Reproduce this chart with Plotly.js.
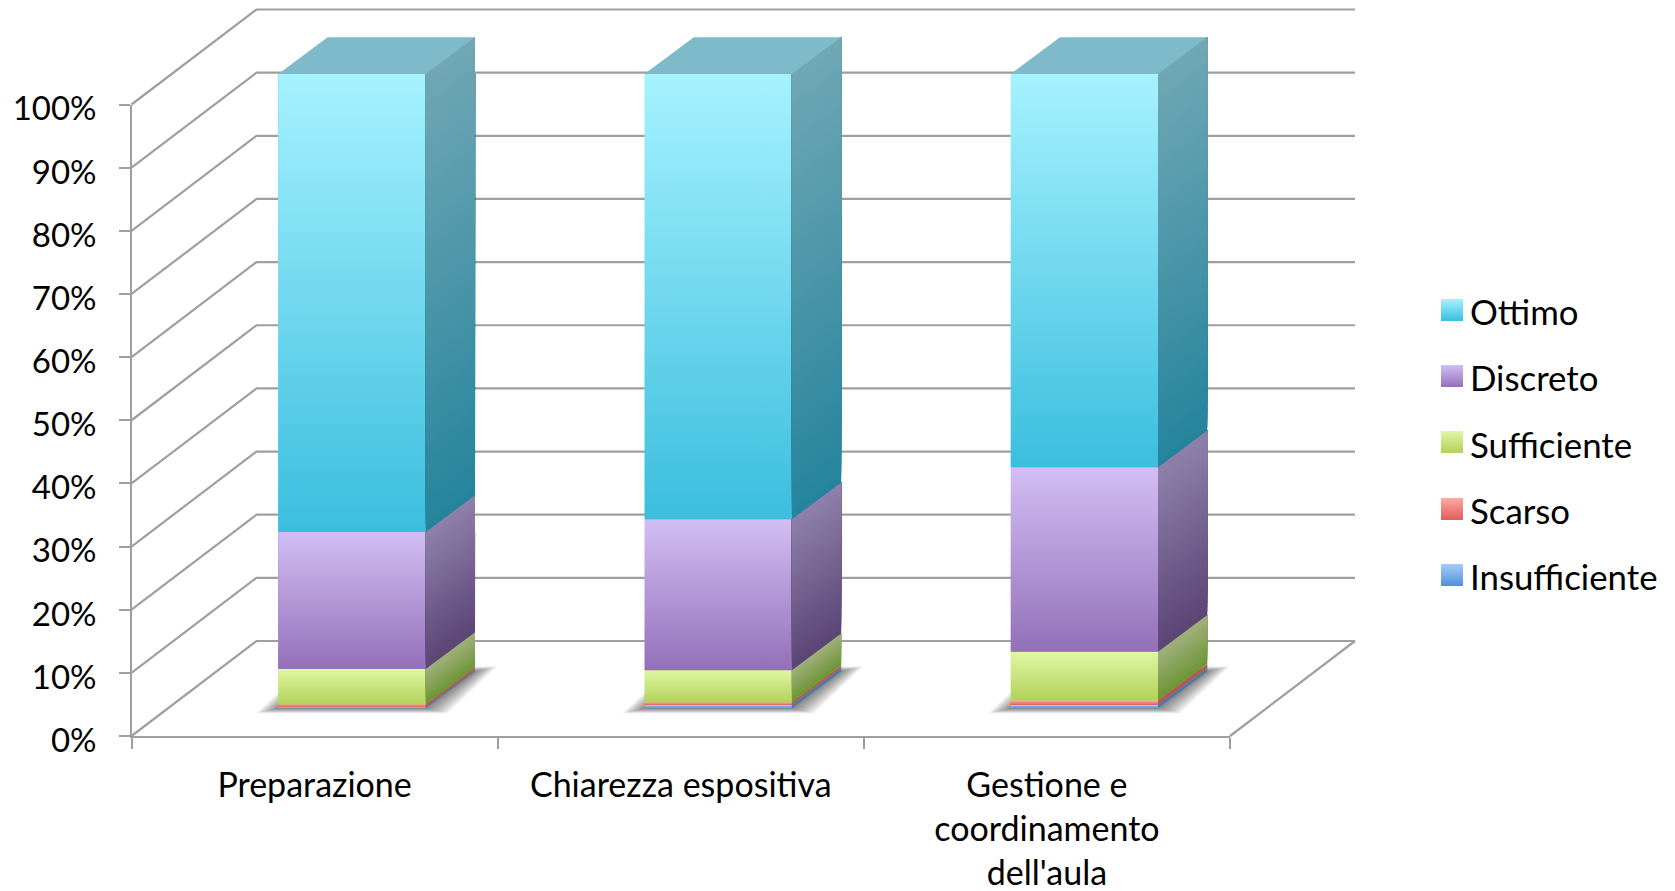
<!DOCTYPE html>
<html>
<head>
<meta charset="utf-8">
<script src="https://cdn.plot.ly/plotly-3.0.1.min.js"></script>
<style>
html,body{margin:0;padding:0;background:#fff}
.legendpoints{display:none}
</style>
</head>
<body>
<div id="chart" style="width:1675px;height:891px"></div>
<script>
// ---- data ----
var categories = ["Preparazione", "Chiarezza espositiva", "Gestione e<br>coordinamento<br>dell'aula"];
var insufficiente = [0.2, 0.5, 0.5];
var scarso        = [0.4, 0.4, 0.7];
var sufficiente   = [5.6, 5.1, 7.7];
var discreto      = [21.6, 23.8, 29.1];
var ottimo        = [72.2, 70.2, 62.0];
var yTicks = [0,10,20,30,40,50,60,70,80,90,100];
var yTickText = ["0%","10%","20%","30%","40%","50%","60%","70%","80%","90%","100%"];

var seriesNames  = ["Insufficiente","Scarso","Sufficiente","Discreto","Ottimo"];
var seriesValues = [insufficiente, scarso, sufficiente, discreto, ottimo];
var frontTop    = ["#A6CBFB","#FFA9A5","#E0F7A3","#D2BEF4","#A6F2FF"];
var frontBottom = ["#5090D8","#DF5F58","#B3D15A","#9370B9","#3BBEDE"];
var sideTop     = ["#4D86BE","#C4625C","#A0B07C","#8F80AB","#70A7B4"];
var sideBottom  = ["#3C6FA5","#B04A44","#6E9536","#5B4575","#25849D"];
var mid = ["#7AAEEA","#EF837E","#CBE47E","#B297D6","#70D8EF"];
var topFace = "#7FBACA";
var axisColor = "#9F9F9F";

// ---- layout geometry ----
var W = 1675, H = 891;
var AX_L = 131.5, AX_R = 1230, Y0 = 736, Y100 = 104.5, LABEL_DROP = 4.3;
var CAT = (AX_R - AX_L) / 3, PCT = (Y0 - Y100) / 100;
var BAR_L = 0.401 - 0.5, BAR_W = 0.4025;          // front face, category units
var BASE = (Y0 - 708.2) / PCT, SC = 6.342 / PCT;  // front plane of the bars
var BDX = 49.3 / CAT, BDY = 36.7 / PCT;           // bar depth
var WDX = 125 / CAT, WDY = 95 / PCT;              // wall depth
function yy(v){ return BASE + SC * v; }
function hex(c){ return [1,3,5].map(function(i){ return parseInt(c.substr(i,2),16); }); }
function mix(a,b,t){ var A=hex(a),B=hex(b);
  return "rgb("+A.map(function(x,i){ return Math.round(x+(B[i]-x)*t); }).join(",")+")"; }
function poly(pts){ return "M"+pts.map(function(p){ return p[0]+","+p[1]; }).join("L")+"Z"; }

var shapes = [], traces = [];

// subplot order: xy (page-wide, behind) -> x2y2 (visible axes) -> x2y3 (bars) -> x4y4 (page-wide, in front)
traces.push({type:"scatter", mode:"none", x:[0], y:[0], xaxis:"x", yaxis:"y", showlegend:false, hoverinfo:"skip"});
traces.push({type:"scatter", mode:"none", x:categories, y:[0,0,0], xaxis:"x2", yaxis:"y2", showlegend:false, hoverinfo:"skip"});
traces.push({type:"scatter", mode:"none", x:categories, y:[0,0,0], xaxis:"x2", yaxis:"y5", showlegend:false, hoverinfo:"skip"});

// bars: real stacked values on their own y scale
seriesNames.forEach(function(name,s){
  traces.push({type:"bar", name:name, x:categories, y:seriesValues[s], xaxis:"x2", yaxis:"y3",
    width:BAR_W, offset:BAR_L, marker:{color:mid[s], line:{width:0}}, cliponaxis:false,
    legendgroup:name, legendrank:10-s, hoverinfo:"skip"});
});

function gradPoly(xs, ys, top, bottom){
  traces.push({type:"scatter", mode:"none", x:xs, y:ys, xaxis:"x4", yaxis:"y4", fill:"toself",
    fillgradient:{type:"vertical", colorscale:[[0,bottom],[1,top]]},
    showlegend:false, hoverinfo:"skip", cliponaxis:false});
}

// walls and floor
yTicks.forEach(function(t){
  shapes.push({type:"path", xref:"x", yref:"y", layer:"below",
    path:"M-0.5,"+t+"L"+(-0.5+WDX)+","+(t+WDY)+"L"+(2.5+WDX)+","+(t+WDY),
    line:{color:axisColor,width:2.2}});
});
shapes.push({type:"line", xref:"x", yref:"y", layer:"below", x0:2.5, y0:0, x1:2.5+WDX, y1:WDY,
  line:{color:axisColor,width:2.2}});

// shadows, faces
categories.forEach(function(c,i){
  var l = i+BAR_L, r = l+BAR_W, b0 = yy(0);
  for (var k=10;k>=1;k--){
    var ex = k*2.2/CAT, ey = k*0.5/PCT;
    shapes.push({type:"path", xref:"x", yref:"y", layer:"below",
      path:poly([[l-ex,b0-ey],[r+ex,b0-ey],[r+BDX+ex,b0+BDY+ey],[l+BDX-ex,b0+BDY+ey]]),
      fillcolor:"rgba(0,0,0,0.055)", line:{width:0}});
  }
  var cum = 0;
  seriesNames.forEach(function(name,s){
    var v0 = cum, v1 = cum + seriesValues[s][i]; cum = v1;
    var y0 = yy(v0), y1 = yy(v1);
    gradPoly([l,r,r,l],[y0,y0,y1,y1],frontTop[s],frontBottom[s]);
    var n = Math.max(1, Math.round((y1-y0)*PCT/4));
    // painted upward, each layer reaching the top of its segment, so no seams show
    for (var j=0;j<n;j++){
      var a = y0+(y1-y0)*j/n;
      shapes.push({type:"path", xref:"x4", yref:"y4", layer:"above",
        path:poly([[r,a],[r+BDX,a+BDY],[r+BDX,y1+BDY],[r,y1]]),
        fillcolor:mix(sideBottom[s], sideTop[s], (j+0.5)/n), line:{width:0}});
    }
  });
  var t = yy(cum);
  shapes.push({type:"path", xref:"x4", yref:"y4", layer:"above",
    path:poly([[l,t],[r,t],[r+BDX,t+BDY],[l+BDX,t+BDY]]), fillcolor:topFace, line:{width:0}});
});

// gradient swatches under the legend entries
var swatchTop = [564,498,431,365,299];
seriesNames.forEach(function(name,s){
  var x0 = -0.5+(1441-AX_L)/CAT, x1 = -0.5+(1463-AX_L)/CAT;
  var y0 = (Y0-swatchTop[s]-22)/PCT, y1 = (Y0-swatchTop[s])/PCT;
  gradPoly([x0,x1,x1,x0],[y0,y0,y1,y1],frontTop[s],frontBottom[s]);
});

var fontFam = "Lato, Carlito, sans-serif";
var pageX = [-0.5-AX_L/CAT, -0.5+(W-AX_L)/CAT], pageY = [(Y0-H)/PCT, Y0/PCT];
var layout = {
  width:W, height:H, paper_bgcolor:"#fff", plot_bgcolor:"rgba(0,0,0,0)",
  margin:{l:0,r:0,t:0,b:0,pad:0,autoexpand:false},
  barmode:"stack", showlegend:true, hovermode:false,
  font:{family:fontFam,color:"#000",size:34},
  xaxis:{range:pageX, domain:[0,1], visible:false, anchor:"y"},
  yaxis:{range:pageY, domain:[0,1], visible:false, anchor:"x"},
  xaxis2:{type:"category", categoryorder:"array", categoryarray:categories, range:[-0.5,2.5],
    domain:[AX_L/W,AX_R/W], tickson:"boundaries", ticks:"outside", ticklen:11, tickwidth:2,
    tickcolor:axisColor, showline:true, linecolor:axisColor, linewidth:2, showgrid:false,
    zeroline:false, anchor:"y2", tickangle:0, automargin:false, tickfont:{size:34}, ticklabelstandoff:18},
  // axis line and tick marks
  yaxis2:{range:[0,100], domain:[(H-Y0)/H,(H-Y100)/H], tickmode:"array", tickvals:yTicks, showticklabels:false,
    ticks:"outside", ticklen:11, tickwidth:2, tickcolor:axisColor, showline:true, linecolor:axisColor,
    linewidth:2, showgrid:false, zeroline:false, anchor:"x2", automargin:false},
  // tick labels, sitting slightly below their marks as in the reference
  yaxis5:{range:[0,100], domain:[(H-Y0-LABEL_DROP)/H,(H-Y100-LABEL_DROP)/H], tickmode:"array", tickvals:yTicks, ticktext:yTickText,
    ticks:"", showline:false, showgrid:false, zeroline:false, anchor:"x2", automargin:false,
    tickfont:{size:33}, ticklabelstandoff:34},
  yaxis3:{range:[0,100], domain:[(H-708.2)/H,(H-(708.2-634.2))/H], visible:false, anchor:"x2"},
  xaxis4:{range:pageX, domain:[0,1], visible:false, anchor:"y4"},
  yaxis4:{range:pageY, domain:[0,1], visible:false, anchor:"x4"},
  legend:{x:1430/W, xanchor:"left", y:1-(282/H), yanchor:"top", traceorder:"grouped",
    tracegroupgap:18.2, bgcolor:"rgba(0,0,0,0)", font:{size:34.8,family:fontFam}, itemclick:false, itemdoubleclick:false},
  shapes:shapes
};
Plotly.newPlot("chart", traces, layout, {displayModeBar:false, staticPlot:true});
</script>
</body>
</html>
